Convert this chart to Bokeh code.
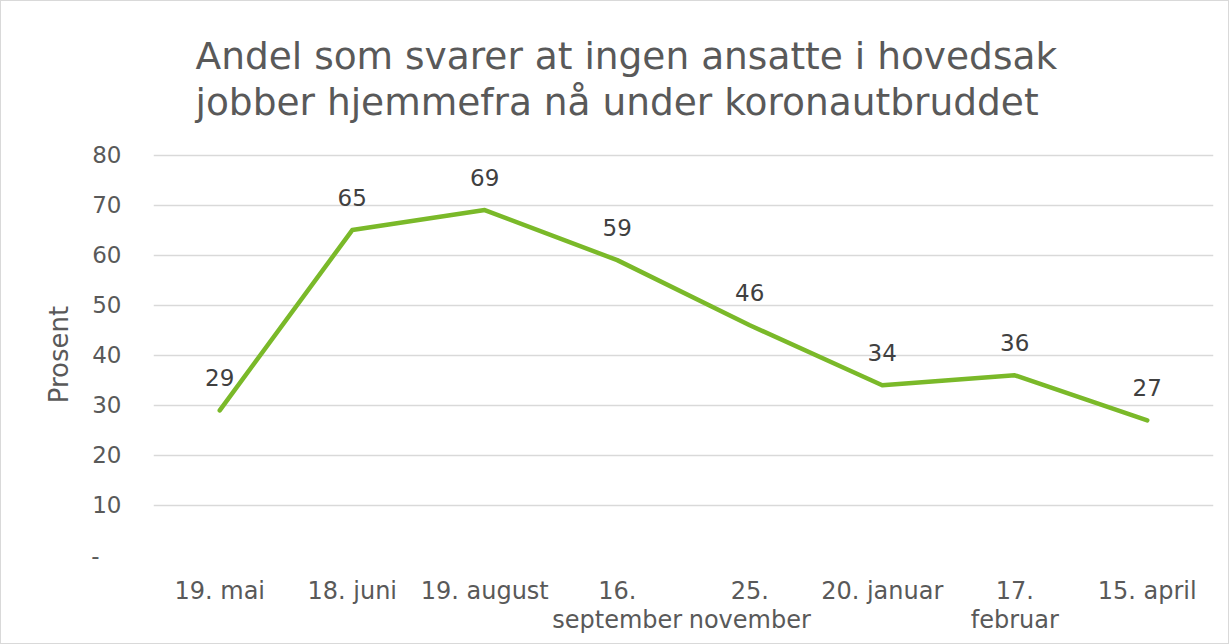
from bokeh.plotting import figure
from bokeh.models import Range1d, FixedTicker, Title, ColumnDataSource
from bokeh.core.properties import value
from bokeh.embed import file_html
from bokeh.resources import INLINE

categories = ["19. mai", "18. juni", "19. august", "16.\nseptember", "25.\nnovember",
              "20. januar", "17.\nfebruar", "15. april"]
values = [29, 65, 69, 59, 46, 34, 36, 27]
y_ticks = [0, 10, 20, 30, 40, 50, 60, 70, 80]
y_tick_labels = ["-\u00a0\u00a0\u00a0", "10", "20", "30", "40", "50", "60", "70", "80"]
title_lines = ["Andel som svarer at ingen ansatte i hovedsak",
               "jobber hjemmefra nå under koronautbruddet"]
y_title = "Prosent"

FONT = "DejaVu Sans"
GREY = "#595959"

xs = [i + 0.5 for i in range(len(categories))]
src = ColumnDataSource(dict(x=xs, y=values, lab=[str(v) for v in values]))

p = figure(width=1229, height=644, output_backend="svg", toolbar_location=None,
           x_range=Range1d(0, len(categories)), y_range=Range1d(0, 80.3),
           min_border_left=152, min_border_right=17, min_border_top=152, min_border_bottom=90)
p.styles = {"border": "1px solid #d9d9d9"}
p.outline_line_color = None
p.background_fill_color = "white"
p.border_fill_color = "white"

p.line("x", "y", source=src, line_color="#7ab929", line_width=4.5, line_cap="round", line_join="round")
p.text("x", "y", text="lab", source=src, text_align="center", text_baseline="middle",
       y_offset=-33, text_font=value(FONT), text_font_size="23px", text_color="#404040")

# axes
p.xaxis.ticker = FixedTicker(ticks=xs)
p.xaxis.major_label_overrides = {x: c for x, c in zip(xs, categories)}
p.yaxis.ticker = FixedTicker(ticks=y_ticks)
p.yaxis.major_label_overrides = {t: l for t, l in zip(y_ticks, y_tick_labels)}
for ax in (p.xaxis, p.yaxis):
    ax.axis_line_color = None
    ax.major_tick_line_color = None
    ax.minor_tick_line_color = None
    ax.major_label_text_font = FONT
    ax.major_label_text_color = GREY
p.xaxis.major_label_text_font_size = "24px"
p.yaxis.major_label_text_font_size = "23px"
p.xaxis.major_label_standoff = 15
p.xaxis.major_label_text_line_height = 1.07
p.yaxis.major_label_standoff = 26
p.yaxis.axis_label = y_title
p.yaxis.axis_label_text_font = FONT
p.yaxis.axis_label_text_font_size = "26px"
p.yaxis.axis_label_text_font_style = "normal"
p.yaxis.axis_label_text_color = GREY
p.yaxis.axis_label_standoff = 14

p.xgrid.grid_line_color = None
p.ygrid.grid_line_color = "#d9d9d9"
p.ygrid.grid_line_width = 1.5

# two-line title
p.add_layout(Title(text="\n".join(title_lines), align="left", offset=42, standoff=58,
                   text_font=FONT, text_font_size="37.5px", text_font_style="normal",
                   text_line_height=1.05, text_color=GREY), "above")

open("out.html", "w").write(file_html(p, INLINE))
